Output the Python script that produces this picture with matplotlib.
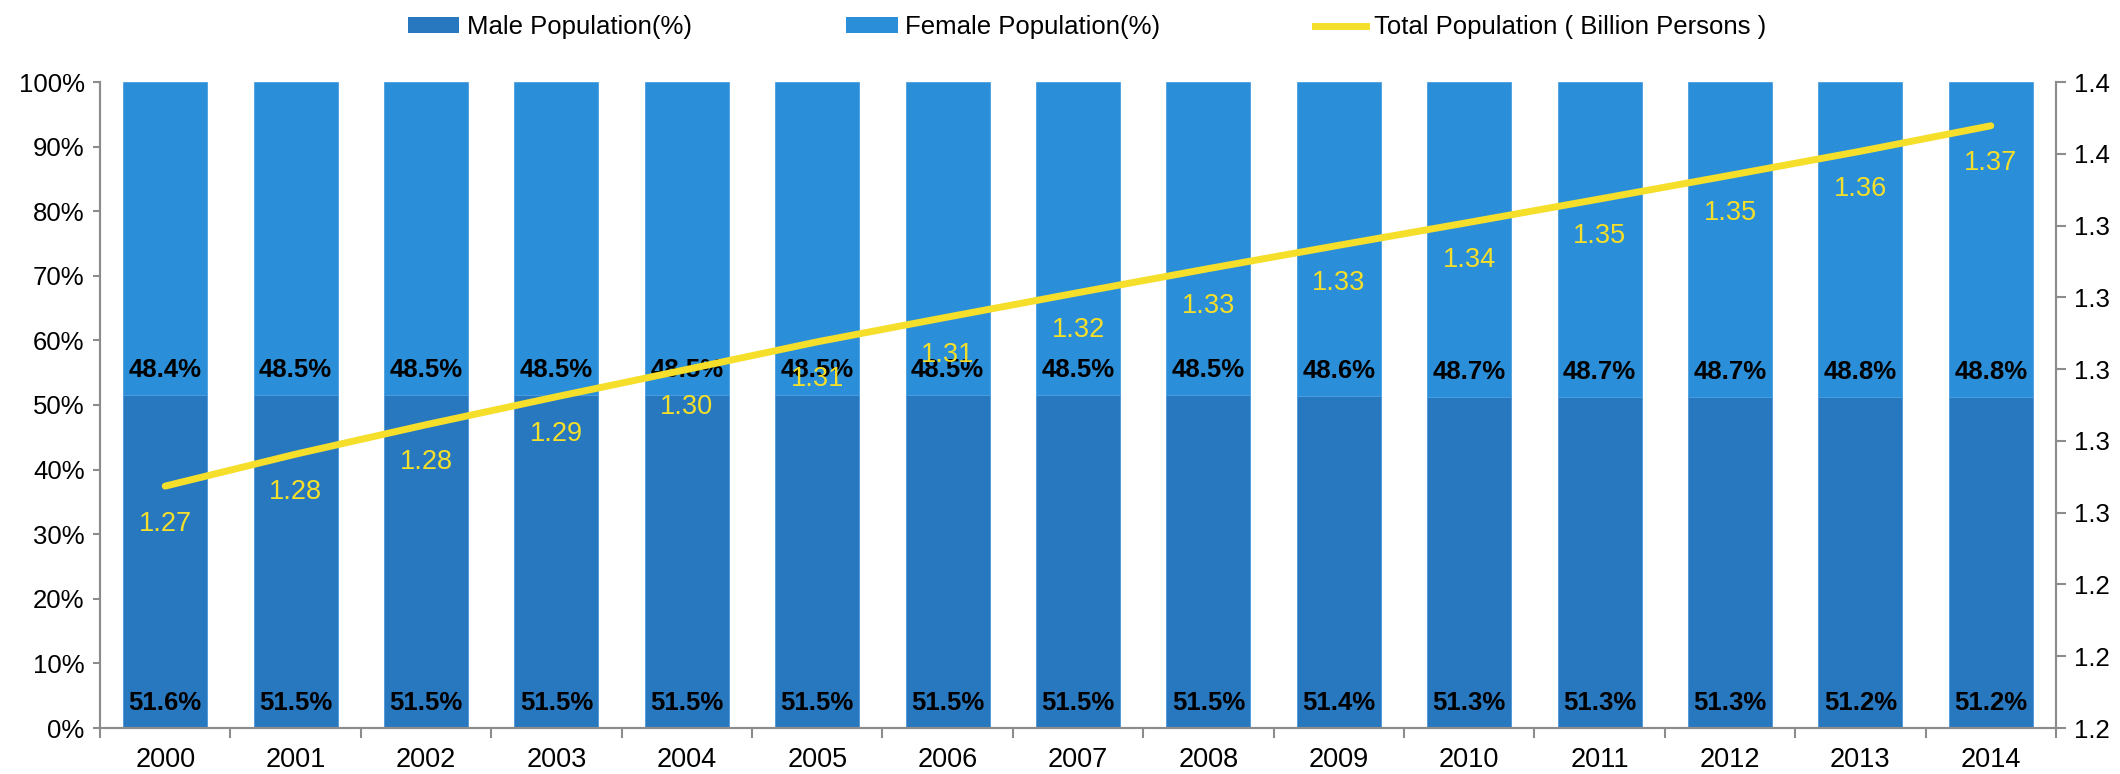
import numpy as np
import matplotlib
matplotlib.use('agg')
import matplotlib.pyplot as plt
from matplotlib.patches import Patch
from matplotlib.lines import Line2D

plt.rcParams['font.family'] = ['Liberation Sans', 'DejaVu Sans']

# data
years = ['2000', '2001', '2002', '2003', '2004', '2005', '2006', '2007',
         '2008', '2009', '2010', '2011', '2012', '2013', '2014']
male_pct = [51.6, 51.5, 51.5, 51.5, 51.5, 51.5, 51.5, 51.5,
            51.5, 51.4, 51.3, 51.3, 51.3, 51.2, 51.2]
female_pct = [48.4, 48.5, 48.5, 48.5, 48.5, 48.5, 48.5, 48.5,
              48.5, 48.6, 48.7, 48.7, 48.7, 48.8, 48.8]
total_pop = [1.2674, 1.2763, 1.2845, 1.2923, 1.2999, 1.3076, 1.3145, 1.3213,
             1.3280, 1.3345, 1.3409, 1.3474, 1.3540, 1.3607, 1.3678]

male_color = '#2878c0'
female_color = '#2a8fd8'
line_color = '#f5df2a'
axis_color = '#8c8c8c'
fs = 18.5

fig = plt.figure(figsize=(21.2, 7.74), dpi=100)
ax = fig.add_axes([100 / 2120, 46 / 774, 1956 / 2120, 646 / 774])

x = np.arange(len(years))
male = np.array(male_pct) / 100.0
female = np.array(female_pct) / 100.0
w = 0.645
ax.bar(x, male, w, color=male_color, edgecolor='#4a95d6', linewidth=0.6, zorder=2)
ax.bar(x, female, w, bottom=male, color=female_color, edgecolor='#4a9fe0',
       linewidth=0.6, zorder=2)

for i in range(len(years)):
    ax.annotate('%.1f%%' % male_pct[i], (x[i], 0), xytext=(0, 18),
                textcoords='offset points', ha='center', va='center',
                fontsize=fs, fontweight='bold', color='black', zorder=3)
    ax.annotate('%.1f%%' % female_pct[i], (x[i], male[i]), xytext=(0, 18),
                textcoords='offset points', ha='center', va='center',
                fontsize=fs, fontweight='bold', color='black', zorder=3)

ax.set_xlim(-0.5, len(years) - 0.5)
ax.set_ylim(0, 1)
ax.set_yticks(np.linspace(0, 1, 11))
ax.set_yticklabels(['%d%%' % v for v in range(0, 101, 10)])
ax.set_xticks(x)
ax.set_xticklabels(years)
ax.set_xticks(np.arange(-0.5, len(years), 1.0), minor=True)
ax.tick_params(axis='x', which='major', length=0, pad=14, labelsize=fs + 1)
ax.tick_params(axis='x', which='minor', length=7, width=1.5, color=axis_color)
ax.tick_params(axis='y', length=5, width=1.5, color=axis_color, labelsize=fs, pad=6)
for side in ['left', 'bottom', 'right']:
    ax.spines[side].set_color(axis_color)
    ax.spines[side].set_linewidth(1.5)
ax.spines['top'].set_visible(False)

ax2 = ax.twinx()
ax2.plot(x, total_pop, color=line_color, linewidth=5, solid_capstyle='round', zorder=4)
for i in range(len(years)):
    ax2.annotate('%.2f' % total_pop[i], (x[i], total_pop[i]), xytext=(0, -27),
                 textcoords='offset points', ha='center', va='center',
                 fontsize=fs + 1, color=line_color, zorder=5)
ax2.set_ylim(1.2, 1.38)
ax2.set_yticks(np.linspace(1.2, 1.38, 10))
ax2.set_yticklabels(['%.1f' % v for v in np.linspace(1.2, 1.38, 10)])
ax2.tick_params(axis='y', length=7, width=1.5, color=axis_color, labelsize=fs, pad=6)
for side in ['left', 'bottom', 'right']:
    ax2.spines[side].set_color(axis_color)
    ax2.spines[side].set_linewidth(1.5)
ax2.spines['top'].set_visible(False)

handles = [Patch(facecolor=male_color, edgecolor='none'),
           Patch(facecolor=female_color, edgecolor='none'),
           Line2D([0], [0], color=line_color, linewidth=5)]
labels = ['Male Population(%)', 'Female Population(%)',
          'Total Population ( Billion Persons )']
fig.legend(handles, labels, ncol=3, loc='center', bbox_to_anchor=(1087 / 2120, 1 - 27 / 774),
           frameon=False, fontsize=fs, handlelength=2.0, handleheight=0.55,
           handletextpad=0.3, columnspacing=6.0)

fig.savefig('out.png', dpi=100)
